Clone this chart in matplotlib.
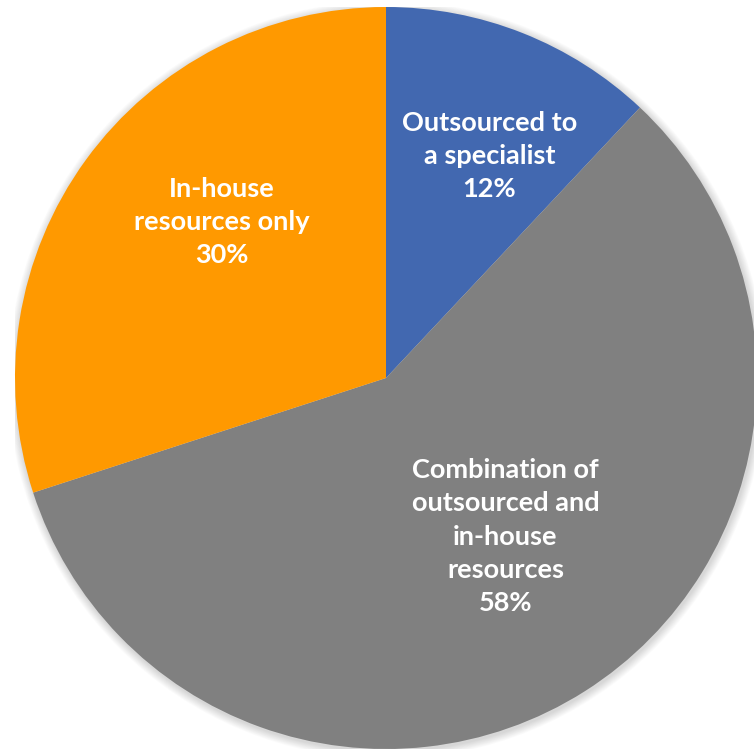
import matplotlib
matplotlib.use("Agg")
import matplotlib.pyplot as plt
import numpy as np

categories = ["Outsourced to\na specialist", "Combination of\noutsourced and\nin-house\nresources", "In-house\nresources only"]
values = [12, 58, 30]
colors = ["#4268B0", "#808080", "#FF9900"]

# label placement (angle in degrees, radius fraction) per wedge
label_polar = [(65.0, 0.66), (-53.0, 0.535), (136.4, 0.61)]

fig = plt.figure(figsize=(7.54, 7.54), dpi=100)
ax = fig.add_axes([15/754, 5/754, 742/754, 742/754])

# soft shadow
for i in range(10):
    r = 1.0 + 0.0022 * (i + 1)
    c = plt.Circle((0.003, -0.005), r, color="black", alpha=0.015, lw=0, zorder=0)
    ax.add_patch(c)

wedges, _ = ax.pie(values, colors=colors, startangle=90, counterclock=False,
                   radius=1.0, wedgeprops=dict(linewidth=0), frame=False)
for w in wedges:
    w.set_zorder(2)

total = sum(values)
for cat, v, (ang, rf) in zip(categories, values, label_polar):
    a = np.deg2rad(ang)
    ax.text(rf * np.cos(a), rf * np.sin(a), f"{cat}\n{round(100*v/total)}%",
            ha="center", va="center", color="white", fontsize=19.5,
            fontweight="bold", family=["Lato", "DejaVu Sans"],
            linespacing=1.46, zorder=3)

ax.set_xlim(-1, 1)
ax.set_ylim(-1, 1)
ax.set_aspect("equal")
ax.axis("off")
fig.savefig("out.png", dpi=100)
